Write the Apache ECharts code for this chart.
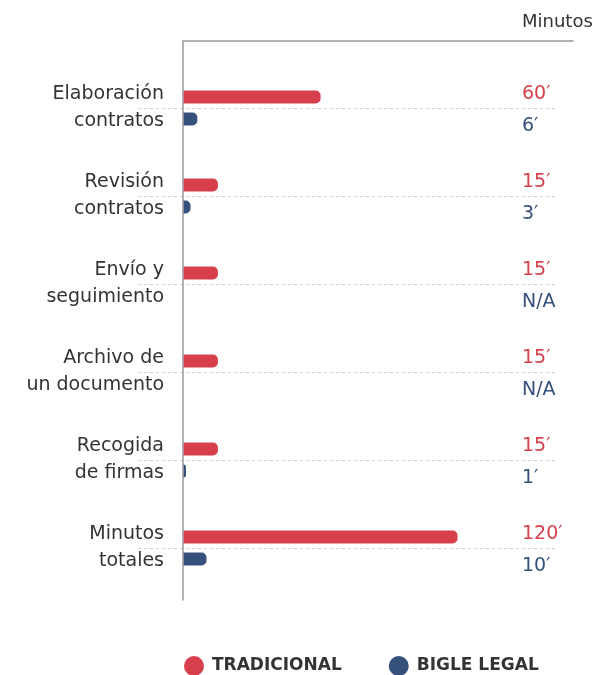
<!DOCTYPE html>
<html>
<head>
<meta charset="utf-8">
<script src="https://cdn.jsdelivr.net/npm/echarts@6/dist/echarts.min.js"></script>
<style>
  html, body { margin: 0; padding: 0; background: #fff; }
  #chart { width: 613px; height: 675px; }
</style>
</head>
<body>
<div id="chart"></div>
<script>
// datos del gráfico
const categorias = ['Elaboración\ncontratos', 'Revisión\ncontratos', 'Envío y\nseguimiento', 'Archivo de\nun documento', 'Recogida\nde firmas', 'Minutos\ntotales'];
const tradicional = [60, 15, 15, 15, 15, 120];
const bigleLegal = [6, 3, null, null, 1, 10];
const nombresSeries = ['TRADICIONAL', 'BIGLE LEGAL'];

const ROJO = '#D63F4B';
const AZUL = '#36507C';
const fuente = '"DejaVu Sans", sans-serif';

function minutos(v) {
  return v == null ? 'N/A' : v + '′';
}

const chart = echarts.init(document.getElementById('chart'));

const option = {
  animation: false,
  title: {
    text: 'Minutos',
    left: 522,
    top: 13,
    padding: 0,
    textStyle: { fontFamily: fuente, fontSize: 18, fontWeight: 'normal', color: '#333' }
  },
  legend: {
    data: nombresSeries,
    left: 184,
    top: 656,
    padding: 0,
    icon: 'circle',
    itemWidth: 20,
    itemHeight: 20,
    itemGap: 47,
    textStyle: { fontFamily: fuente, fontSize: 17, fontWeight: 'bold', color: '#333', padding: [0, 0, 0, 3] }
  },
  grid: [
    // datos
    { left: 138, top: 108, width: 420, height: 440 },
    // marco (eje vertical + línea superior)
    { left: 183, top: 41, width: 390, height: 559 }
  ],
  xAxis: [
    {
      type: 'value',
      gridIndex: 0,
      min: -20,
      max: 164,
      show: false
    },
    {
      type: 'value',
      gridIndex: 1,
      position: 'top',
      axisLine: { show: true, onZero: false, lineStyle: { color: '#999', width: 1.5 } },
      axisTick: { show: false },
      axisLabel: { show: false },
      splitLine: { show: false }
    }
  ],
  yAxis: [
    {
      type: 'category',
      gridIndex: 0,
      data: categorias,
      inverse: true,
      boundaryGap: false,
      offset: -45,
      axisLine: { show: false },
      axisTick: { show: false },
      axisLabel: {
        margin: 19,
        fontFamily: fuente,
        fontSize: 19,
        lineHeight: 27,
        color: '#333',
        align: 'right'
      },
      splitLine: {
        show: true,
        lineStyle: { color: '#cfcfcf', type: [3, 3], width: 1 }
      }
    },
    {
      type: 'category',
      gridIndex: 0,
      data: categorias,
      inverse: true,
      boundaryGap: false,
      position: 'right',
      offset: -36,
      axisLine: { show: false },
      axisTick: { show: false },
      splitLine: { show: false },
      axisLabel: {
        margin: 0,
        align: 'left',
        padding: [5, 0, 0, 0],
        formatter: function (value, i) {
          return '{r|' + minutos(tradicional[i]) + '}\n{b|' + minutos(bigleLegal[i]) + '}';
        },
        rich: {
          r: { fontFamily: fuente, fontSize: 19, lineHeight: 32, color: ROJO },
          b: { fontFamily: fuente, fontSize: 19, lineHeight: 32, color: AZUL }
        }
      }
    },
    {
      type: 'value',
      gridIndex: 1,
      axisLine: { show: true, onZero: false, lineStyle: { color: '#999', width: 1.5 } },
      axisTick: { show: false },
      axisLabel: { show: false },
      splitLine: { show: false }
    }
  ],
  series: [
    {
      name: nombresSeries[0],
      type: 'bar',
      xAxisIndex: 0,
      yAxisIndex: 0,
      data: tradicional,
      barWidth: 13,
      barGap: '70%',
      clip: false,
      itemStyle: { color: ROJO, borderRadius: [0, 5, 5, 0] }
    },
    {
      name: nombresSeries[1],
      type: 'bar',
      xAxisIndex: 0,
      yAxisIndex: 0,
      data: bigleLegal,
      barWidth: 13,
      barGap: '70%',
      clip: false,
      itemStyle: { color: AZUL, borderRadius: [0, 5, 5, 0] }
    }
  ]
};

chart.setOption(option);
window.addEventListener('resize', () => chart.resize());
</script>
</body>
</html>
